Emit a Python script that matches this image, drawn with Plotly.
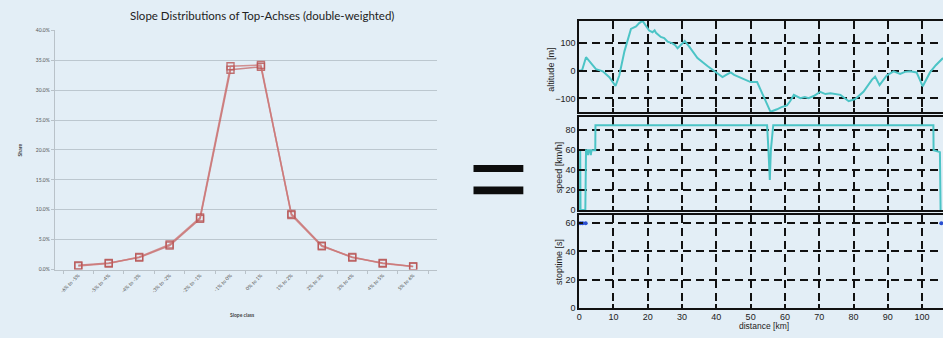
import plotly.graph_objects as go

W, H = 943, 338

# ---- slope distribution (left) ----
slope_classes = ["-6% to -5%", "-5% to -4%", "-4% to -3%", "-3% to -2%", "-2% to -1%", "-1% to 0%",
                 "0% to 1%", "1% to 2%", "2% to 3%", "3% to 4%", "4% to 5%", "5% to 6%"]
share_a = [0.6, 1.0, 2.1, 4.2, 8.7, 34.0, 34.2, 9.1, 3.9, 2.1, 1.0, 0.5]
share_b = [0.7, 1.1, 2.0, 4.0, 8.5, 33.4, 33.9, 9.3, 4.0, 2.0, 1.1, 0.5]
share_ticks = [0, 5, 10, 15, 20, 25, 30, 35, 40]
share_ticktext = ["0.0%", "5.0%", "10.0%", "15.0%", "20.0%", "25.0%", "30.0%", "35.0%", "40.0%"]

# ---- route profile (right) ----
alt_dist = [0, 0.8, 2.0, 3.0, 4.9, 6.9, 8.8, 10.6, 11.7, 13.2, 15.1, 16.6, 17.5, 18.5, 19.5, 20.0, 20.4,
            21.4, 22.0, 22.4, 23.8, 24.8, 25.8, 27.2, 28.0, 28.7, 29.6, 30.2, 30.8, 32.1, 34.5, 37.4,
            39.3, 40.5, 41.8, 43.0, 44.2, 45.2, 46.6, 50.0, 51.9, 53.9, 55.8, 57.7, 59.0, 60.6, 61.5,
            62.6, 64.5, 65.8, 66.9, 68.4, 70.3, 71.8, 73.3, 76.2, 77.3, 78.6, 80.5, 82.9, 85.4, 86.3,
            87.6, 89.7, 91.7, 93.6, 95.0, 96.5, 98.4, 100.2, 102.3, 104.0, 106.1]
altitude = [2, 0, 49, 35, 6, -2, -23, -55, -17, 70, 151, 160, 172, 180, 163, 155, 145,
            139, 146, 137, 122, 118, 105, 99, 92, 81, 93, 100, 107, 87, 46, 17,
            0, -12, -23, -14, -6, -15, -23, -41, -41, -99, -148, -139, -131, -125, -110,
            -87, -99, -95, -99, -91, -76, -84, -81, -87, -98, -110, -102, -76, -32, -21,
            -52, -17, -2, -11, -4, -2, -6, -56, -6, 20, 46]

speed_dist = [0, 0.1, 0.3, 0.4, 1.8, 2.0, 2.4, 2.6, 2.8, 3.2, 3.4, 3.6, 4.7, 4.75, 54.8, 55.2, 55.6,
              55.9, 56.3, 56.6, 103.3, 103.35, 105.2, 105.4]
speed = [0, 60, 60, 0, 0, 60, 60, 55, 60, 60, 55, 60, 60, 85, 85, 60, 30,
         60, 80, 85, 85, 60, 58, 0]

stop_dist = [0.3, 1.0, 1.9, 105.6]
stoptime = [60, 60, 60, 60]

BG = "#e3eef6"
CYAN = "#4cc4c6"

fig = go.Figure()

fig.add_trace(go.Scatter(x=slope_classes, y=share_b, mode="lines+markers",
                         line=dict(color="rgba(196,100,100,0.75)", width=1.6),
                         marker=dict(symbol="square-open", size=7, color="rgba(180,80,80,0.8)", line=dict(width=1.4)),
                         xaxis="x", yaxis="y", showlegend=False))
fig.add_trace(go.Scatter(x=slope_classes, y=share_a, mode="lines+markers",
                         line=dict(color="rgba(205,120,120,0.8)", width=1.6),
                         marker=dict(symbol="square-open", size=7, color="rgba(185,85,85,0.8)", line=dict(width=1.4)),
                         xaxis="x", yaxis="y", showlegend=False))

fig.add_trace(go.Scatter(x=alt_dist, y=altitude, mode="lines", line=dict(color=CYAN, width=2),
                         xaxis="x2", yaxis="y2", showlegend=False))
fig.add_trace(go.Scatter(x=speed_dist, y=speed, mode="lines", line=dict(color=CYAN, width=2),
                         xaxis="x3", yaxis="y3", showlegend=False))
fig.add_trace(go.Scatter(x=stop_dist, y=stoptime, mode="markers",
                         marker=dict(color="#2a4fd0", size=4),
                         xaxis="x4", yaxis="y4", showlegend=False, cliponaxis=False))

def px_x(p):
    return p / W

def px_y(p):
    return (H - p) / H

grid_style = dict(showgrid=True, gridcolor="#111", gridwidth=1.7, griddash="8px,5px",
                  showline=True, linecolor="#111", linewidth=1.8, ticks="inside", ticklen=4,
                  tickcolor="#111", tickwidth=1.5, zeroline=False,
                  tickfont=dict(family="Liberation Sans, Arial", size=9, color="#222"))

x_dom = [px_x(578), 1.0]
x_rng = [0, 106.1]

layout = dict(
    width=W, height=H, margin=dict(l=0, r=0, t=0, b=0),
    paper_bgcolor=BG, plot_bgcolor="rgba(0,0,0,0)",
    xaxis=dict(domain=[px_x(52), px_x(435)], anchor="y", type="category",
               showline=True, linecolor="#b9c2c9", linewidth=1.2, showgrid=False,
               ticks="outside", ticklen=3, tickcolor="#b9c2c9", tickson="boundaries",
               tickangle=-45, tickfont=dict(family="Lato", size=5, color="#555")),
    yaxis=dict(domain=[px_y(273), px_y(28)], anchor="x", range=[0, 40],
               tickvals=share_ticks, ticktext=share_ticktext,
               showline=True, linecolor="#b9c2c9", linewidth=1.2,
               showgrid=True, gridcolor="#bcc7cf", gridwidth=1.3, zeroline=False,
               ticks="outside", ticklen=3, tickcolor="#b9c2c9",
               tickfont=dict(family="Lato", size=5, color="#555")),
    xaxis2=dict(domain=x_dom, anchor="y2", range=x_rng, dtick=10, showticklabels=False, mirror=True, **grid_style),
    yaxis2=dict(domain=[px_y(112), px_y(18)], anchor="x2", range=[-150, 181], tickvals=[-100, 0, 100], **grid_style),
    xaxis3=dict(domain=x_dom, anchor="y3", range=x_rng, dtick=10, showticklabels=False, mirror=True, **grid_style),
    yaxis3=dict(domain=[px_y(212), px_y(117)], anchor="x3", range=[0, 93], tickvals=[0, 20, 40, 60, 80], **grid_style),
    xaxis4=dict(domain=x_dom, anchor="y4", range=x_rng, dtick=10, mirror=True, **grid_style),
    yaxis4=dict(domain=[px_y(312), px_y(217)], anchor="x4", range=[0, 66], tickvals=[0, 20, 40, 60], **grid_style),
)

annotations = [
    dict(text="Slope Distributions of Top-Achses (double-weighted)", x=px_x(260), y=px_y(13),
         font=dict(family="Lato", size=11.5, color="#222")),
    dict(text="<b>Share</b>", x=px_x(18), y=px_y(150), textangle=-90, font=dict(family="Lato", size=5, color="#444")),
    dict(text="<b>Slope class</b>", x=px_x(240), y=px_y(320), font=dict(family="Lato", size=5, color="#444")),
    dict(text="altitude [m]", x=px_x(550), y=px_y(68), textangle=-90,
         font=dict(family="Liberation Sans, Arial", size=9, color="#222")),
    dict(text="speed [km/h]", x=px_x(558), y=px_y(168), textangle=-90,
         font=dict(family="Liberation Sans, Arial", size=9, color="#222")),
    dict(text="stoptime [s]", x=px_x(557), y=px_y(265), textangle=-90,
         font=dict(family="Liberation Sans, Arial", size=9, color="#222")),
    dict(text="distance [km]", x=px_x(763), y=px_y(331),
         font=dict(family="Liberation Sans, Arial", size=8.5, color="#222")),
]
for a in annotations:
    a.update(xref="paper", yref="paper", showarrow=False, xanchor="center", yanchor="middle")
layout["annotations"] = annotations

# the "=" sign between the two panels
layout["shapes"] = [
    dict(type="rect", xref="paper", yref="paper", x0=px_x(472), x1=px_x(522), y0=px_y(173), y1=px_y(166),
         fillcolor="#0d0d0d", line=dict(width=0)),
    dict(type="rect", xref="paper", yref="paper", x0=px_x(472), x1=px_x(522), y0=px_y(196), y1=px_y(188),
         fillcolor="#0d0d0d", line=dict(width=0)),
]

fig.update_layout(**layout)
fig.write_html("out.html")
